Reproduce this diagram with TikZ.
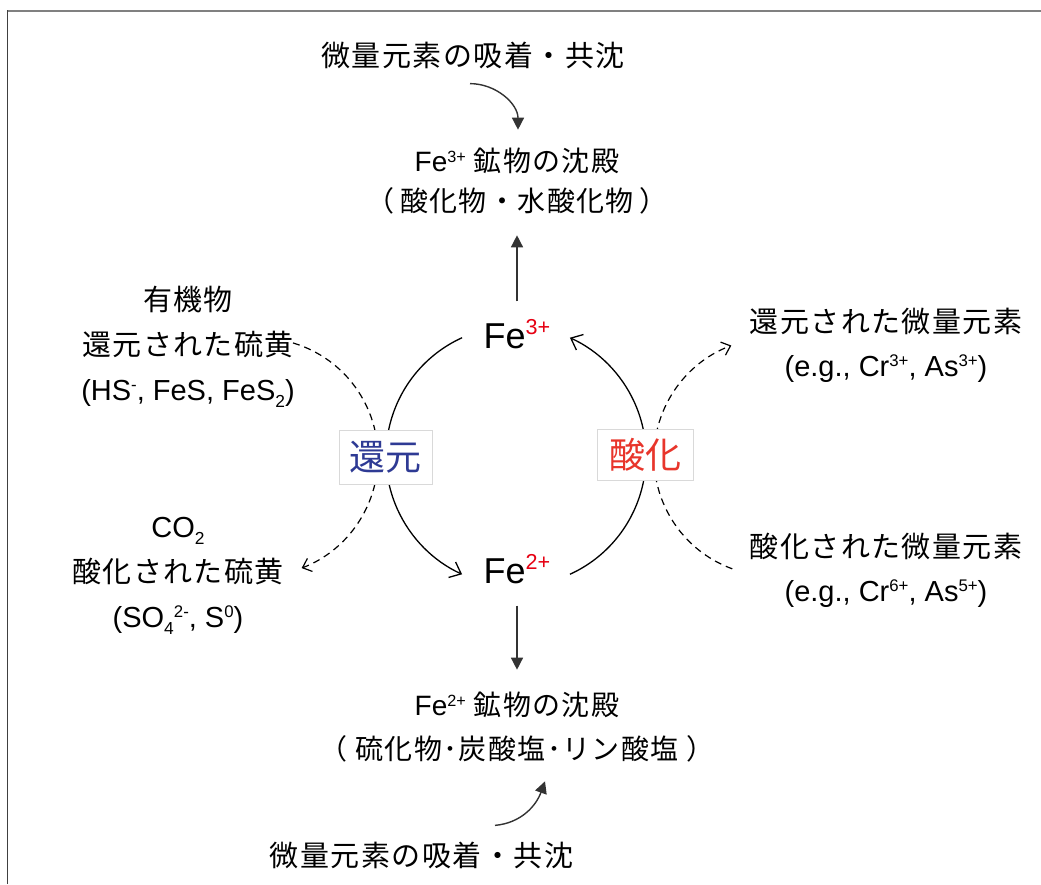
\documentclass[tikz,border=0pt]{standalone}
\usepackage{fontspec}
\setmainfont{Liberation Sans}
\newfontfamily\jp{Noto Sans CJK JP}[LetterSpace=5]
\newfontfamily\jpl{Noto Sans CJK JP}
\usetikzlibrary{arrows.meta,calc}
\definecolor{redtxt}{HTML}{E8352B}
\definecolor{bluetxt}{HTML}{2E3A94}
\definecolor{supred}{HTML}{E60012}
\newcommand\supr[1]{\raisebox{0.32em}{\scalebox{0.58}{#1}}}
\newcommand\subr[1]{\raisebox{-0.24em}{\scalebox{0.6}{#1}}}
\newcommand\fesup[1]{\raisebox{0.4em}{\scalebox{0.6}{\color{supred}#1}}}
\begin{document}
\begin{tikzpicture}[x=1pt,y=1pt,
  txt/.style={inner sep=0pt, align=center},
  side/.style={txt, font={\fontsize{29}{45}\selectfont}},
  rside/.style={txt, font={\fontsize{29}{44}\selectfont}},
  mid/.style={txt, font={\fontsize{28}{40}\selectfont}},
  midb/.style={txt, font={\fontsize{28}{44}\selectfont}},
  sorb/.style={txt, font={\jp\fontsize{29}{35}\selectfont}},
  fe/.style={inner sep=0pt, anchor=base, font={\fontsize{36}{40}\selectfont}},
  lab/.style={draw=black!15, fill=white, line width=0.8pt, inner sep=0pt,
     font={\jpl\fontsize{36}{40}\selectfont}},
  fillarrow/.style={draw=black!80, line width=1.4pt, -{Triangle[length=12pt,width=12pt]}},
  cycarrow/.style={line width=1.3pt, -{Straight Barb[length=10pt,width=17pt]}},
  dasharrow/.style={line width=1.2pt, dash pattern=on 7pt off 5pt, -{Straight Barb[length=8pt,width=14pt]}},
]
\useasboundingbox (0,0) rectangle (1041,884);
% frame
\draw[black!50, line width=1.6pt] (7.5,873) -- (1041,873);
\draw[black!75, line width=1.6pt] (7.5,0) -- (7.5,873.8);

% iron species
\node[fe] (fe3) at (517,535) {Fe\fesup{3+}};
\node[fe] (fe2) at (517,300) {Fe\fesup{2+}};

% minerals
\node[mid] (fe3min) at (517,703) {Fe\supr{3+} {\jp 鉱物の沈殿}\\{\jp （\hspace{6pt}酸化物・水酸化物\hspace{6pt}）}};
\node[midb] (fe2min) at (517,157) {Fe\supr{2+} {\jp 鉱物の沈殿}\\{\jp （\hspace{8pt}硫化物･炭酸塩･リン酸塩\hspace{8pt}）}};
\node[sorb] (topsorb) at (473,829) {微量元素の吸着・共沈};
\node[sorb] (botsorb) at (421.5,29) {微量元素の吸着・共沈};

% side texts
\node[side] (orgs) at (188,537.5) {{\jp 有機物}\\{\jp 還元された硫黄}\\(HS\supr{-}, FeS, FeS\subr{2})};
\node[side] (oxs) at (178,308.5) {CO\subr{2}\\{\jp 酸化された硫黄}\\(SO\subr{4}\supr{2-}, S\supr{0})};
\node[rside] (redtr) at (886,539) {{\jp 還元された微量元素}\\(e.g., Cr\supr{3+}, As\supr{3+})};
\node[rside] (oxtr) at (886,314) {{\jp 酸化された微量元素}\\(e.g., Cr\supr{6+}, As\supr{5+})};

% vertical arrows
\draw[fillarrow, shorten <=18pt, shorten >=21pt] (fe3.north) -- (fe3min.south);
\draw[fillarrow, shorten <=21pt, shorten >=22pt] (fe2.south) -- (fe2min.north);

% curved arrows from sorption texts
\draw[fillarrow] ([shift={(-3,-15)}]topsorb.south) to[out=0,in=90] ([shift={(1,18)}]fe3min.north);
\draw[fillarrow] ([shift={(73.5,16)}]botsorb.north) to[out=5,in=-110] ([shift={(28,-19)}]fe2min.south);

% redox cycle
\coordinate (cc) at (516,428);
\draw[cycarrow] ($(cc)+(114.5:130)$) arc[start angle=114.5, end angle=245.5, radius=130];
\draw[cycarrow] ($(cc)+(-65.5:130)$) arc[start angle=-65.5, end angle=65.5, radius=130];

% coupled dashed arcs
\coordinate (cl) at (259,427);
\coordinate (cr) at (773,427);
\draw[dasharrow] ($(cl)+(73.4:119)$) arc[start angle=73.4, end angle=-69, radius=119];
\draw[dasharrow] ($(cr)+(250:119)$) arc[start angle=250, end angle=110.5, radius=119];

% process labels
\node[lab, text=bluetxt, minimum width=93pt, minimum height=54pt] (red) at (385.5,427) {還元};
\node[lab, text=redtxt, minimum width=96pt, minimum height=51pt] (ox) at (645,429) {酸化};
\end{tikzpicture}
\end{document}
